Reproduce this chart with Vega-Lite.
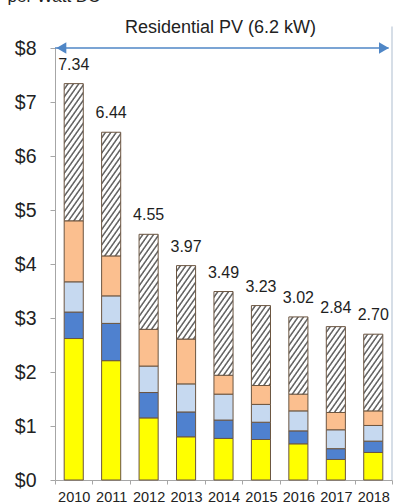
{
"$schema": "https://vega.github.io/schema/vega-lite/v6.json",
"width": 337,
"height": 432,
"autosize": {"type": "none"},
"padding": {"left": 55, "top": 48, "right": 2, "bottom": 24},
"background": "white",
"config": {"view": {"stroke": null}, "font": "Liberation Sans"},
"params": [{"name": "hatch", "value": [
{"offset":0,"color":"#fff"},{"offset":0.02,"color":"#fff"},{"offset":0.03,"color":"#666"},{"offset":0.037,"color":"#666"},
{"offset":0.045,"color":"#fff"},{"offset":0.065,"color":"#fff"},{"offset":0.075,"color":"#666"},{"offset":0.082,"color":"#666"},
{"offset":0.09,"color":"#fff"},{"offset":0.11,"color":"#fff"},{"offset":0.12,"color":"#666"},{"offset":0.127,"color":"#666"},
{"offset":0.135,"color":"#fff"},{"offset":0.155,"color":"#fff"},{"offset":0.165,"color":"#666"},{"offset":0.172,"color":"#666"},
{"offset":0.18,"color":"#fff"},{"offset":0.2,"color":"#fff"},{"offset":0.21,"color":"#666"},{"offset":0.217,"color":"#666"},
{"offset":0.225,"color":"#fff"},{"offset":0.245,"color":"#fff"},{"offset":0.255,"color":"#666"},{"offset":0.262,"color":"#666"},
{"offset":0.27,"color":"#fff"},{"offset":0.29,"color":"#fff"},{"offset":0.3,"color":"#666"},{"offset":0.307,"color":"#666"},
{"offset":0.315,"color":"#fff"},{"offset":0.335,"color":"#fff"},{"offset":0.345,"color":"#666"},{"offset":0.352,"color":"#666"},
{"offset":0.36,"color":"#fff"},{"offset":0.38,"color":"#fff"},{"offset":0.39,"color":"#666"},{"offset":0.397,"color":"#666"},
{"offset":0.405,"color":"#fff"},{"offset":0.425,"color":"#fff"},{"offset":0.435,"color":"#666"},{"offset":0.442,"color":"#666"},
{"offset":0.45,"color":"#fff"},{"offset":0.47,"color":"#fff"},{"offset":0.48,"color":"#666"},{"offset":0.487,"color":"#666"},
{"offset":0.495,"color":"#fff"},{"offset":0.515,"color":"#fff"},{"offset":0.525,"color":"#666"},{"offset":0.532,"color":"#666"},
{"offset":0.54,"color":"#fff"},{"offset":0.56,"color":"#fff"},{"offset":0.57,"color":"#666"},{"offset":0.577,"color":"#666"},
{"offset":0.585,"color":"#fff"},{"offset":0.605,"color":"#fff"},{"offset":0.615,"color":"#666"},{"offset":0.622,"color":"#666"},
{"offset":0.63,"color":"#fff"},{"offset":0.65,"color":"#fff"},{"offset":0.66,"color":"#666"},{"offset":0.667,"color":"#666"},
{"offset":0.675,"color":"#fff"},{"offset":0.695,"color":"#fff"},{"offset":0.705,"color":"#666"},{"offset":0.712,"color":"#666"},
{"offset":0.72,"color":"#fff"},{"offset":0.74,"color":"#fff"},{"offset":0.75,"color":"#666"},{"offset":0.757,"color":"#666"},
{"offset":0.765,"color":"#fff"},{"offset":0.785,"color":"#fff"},{"offset":0.795,"color":"#666"},{"offset":0.802,"color":"#666"},
{"offset":0.81,"color":"#fff"},{"offset":0.83,"color":"#fff"},{"offset":0.84,"color":"#666"},{"offset":0.847,"color":"#666"},
{"offset":0.855,"color":"#fff"},{"offset":0.875,"color":"#fff"},{"offset":0.885,"color":"#666"},{"offset":0.892,"color":"#666"},
{"offset":0.9,"color":"#fff"},{"offset":0.92,"color":"#fff"},{"offset":0.93,"color":"#666"},{"offset":0.937,"color":"#666"},
{"offset":0.945,"color":"#fff"},{"offset":0.965,"color":"#fff"},{"offset":0.975,"color":"#666"},{"offset":0.982,"color":"#666"}
]}],
"datasets": {
"costs": [
{"year":"2010","component":"Module","k":1,"value":2.62},
{"year":"2010","component":"Inverter","k":2,"value":0.49},
{"year":"2010","component":"Hardware BOS","k":3,"value":0.56},
{"year":"2010","component":"Install labor","k":4,"value":1.13},
{"year":"2010","component":"Other soft costs","k":5,"value":2.54},
{"year":"2011","component":"Module","k":1,"value":2.21},
{"year":"2011","component":"Inverter","k":2,"value":0.69},
{"year":"2011","component":"Hardware BOS","k":3,"value":0.51},
{"year":"2011","component":"Install labor","k":4,"value":0.74},
{"year":"2011","component":"Other soft costs","k":5,"value":2.29},
{"year":"2012","component":"Module","k":1,"value":1.15},
{"year":"2012","component":"Inverter","k":2,"value":0.47},
{"year":"2012","component":"Hardware BOS","k":3,"value":0.49},
{"year":"2012","component":"Install labor","k":4,"value":0.68},
{"year":"2012","component":"Other soft costs","k":5,"value":1.76},
{"year":"2013","component":"Module","k":1,"value":0.80},
{"year":"2013","component":"Inverter","k":2,"value":0.46},
{"year":"2013","component":"Hardware BOS","k":3,"value":0.52},
{"year":"2013","component":"Install labor","k":4,"value":0.83},
{"year":"2013","component":"Other soft costs","k":5,"value":1.36},
{"year":"2014","component":"Module","k":1,"value":0.77},
{"year":"2014","component":"Inverter","k":2,"value":0.34},
{"year":"2014","component":"Hardware BOS","k":3,"value":0.48},
{"year":"2014","component":"Install labor","k":4,"value":0.35},
{"year":"2014","component":"Other soft costs","k":5,"value":1.55},
{"year":"2015","component":"Module","k":1,"value":0.75},
{"year":"2015","component":"Inverter","k":2,"value":0.32},
{"year":"2015","component":"Hardware BOS","k":3,"value":0.33},
{"year":"2015","component":"Install labor","k":4,"value":0.35},
{"year":"2015","component":"Other soft costs","k":5,"value":1.48},
{"year":"2016","component":"Module","k":1,"value":0.67},
{"year":"2016","component":"Inverter","k":2,"value":0.24},
{"year":"2016","component":"Hardware BOS","k":3,"value":0.37},
{"year":"2016","component":"Install labor","k":4,"value":0.31},
{"year":"2016","component":"Other soft costs","k":5,"value":1.43},
{"year":"2017","component":"Module","k":1,"value":0.38},
{"year":"2017","component":"Inverter","k":2,"value":0.20},
{"year":"2017","component":"Hardware BOS","k":3,"value":0.35},
{"year":"2017","component":"Install labor","k":4,"value":0.32},
{"year":"2017","component":"Other soft costs","k":5,"value":1.59},
{"year":"2018","component":"Module","k":1,"value":0.51},
{"year":"2018","component":"Inverter","k":2,"value":0.21},
{"year":"2018","component":"Hardware BOS","k":3,"value":0.29},
{"year":"2018","component":"Install labor","k":4,"value":0.27},
{"year":"2018","component":"Other soft costs","k":5,"value":1.42}
],
"totals": [
{"year":"2010","total":7.34},{"year":"2011","total":6.44},{"year":"2012","total":4.55},
{"year":"2013","total":3.97},{"year":"2014","total":3.49},{"year":"2015","total":3.23},
{"year":"2016","total":3.02},{"year":"2017","total":2.84},{"year":"2018","total":2.70}
],
"arrow": [{"a":0,"b":0.99}],
"heads": [{"p":0.019,"side":"left"},{"p":0.976,"side":"right"}],
"frame": [{"top":8.4,"bottom":0}]
},
"layer": [
{
"data": {"name": "costs"},
"mark": {"type": "bar", "stroke": "#6b5540", "strokeWidth": 1, "width": {"band": 0.51}},
"encoding": {
"x": {"field": "year", "type": "nominal", "scale": {"paddingInner": 0, "paddingOuter": 0},
"axis": {"title": null, "labelAngle": 0, "labelFontSize": 14.5, "labelColor": "#222", "tickBand": "extent", "tickSize": 4, "labelPadding": 6, "domainColor": "#a6a6a6", "tickColor": "#a6a6a6", "grid": false}},
"y": {"field": "value", "type": "quantitative", "aggregate": "sum", "stack": "zero", "scale": {"domain": [0, 8], "nice": false},
"axis": {"values": [0,1,2,3,4,5,6,7,8], "format": "$.0f", "labelFontSize": 19.5, "labelColor": "#222", "tickSize": 5, "labelPadding": 14, "grid": false, "domainColor": "#a6a6a6", "tickColor": "#a6a6a6",
"title": "per Watt DC", "titleAngle": 0, "titleAlign": "left", "titleBaseline": "alphabetic", "titleX": -48, "titleY": -47, "titleFontSize": 17, "titleFontWeight": "normal", "titleColor": "#222"}},
"order": {"field": "k", "type": "quantitative"},
"fill": {"field": "component", "type": "nominal", "legend": null,
"scale": {"domain": ["Module", "Inverter", "Hardware BOS", "Install labor", "Other soft costs"], "range": ["#ffff00", "#4f81cf", "#c6d9f0", "#fbbf8f", "#ffffff"]},
"condition": [
{"test": "datum.component === 'Other soft costs' && datum.year === '2010'", "value": {"expr": "{gradient: 'linear', x1: 0, y1: 0, x2: 0.2361, y2: 1.1923, stops: hatch}"}},
{"test": "datum.component === 'Other soft costs' && datum.year === '2011'", "value": {"expr": "{gradient: 'linear', x1: 0, y1: 0, x2: 0.2880, y2: 1.3111, stops: hatch}"}},
{"test": "datum.component === 'Other soft costs' && datum.year === '2012'", "value": {"expr": "{gradient: 'linear', x1: 0, y1: 0, x2: 0.4731, y2: 1.6542, stops: hatch}"}},
{"test": "datum.component === 'Other soft costs' && datum.year === '2013'", "value": {"expr": "{gradient: 'linear', x1: 0, y1: 0, x2: 0.7540, y2: 2.0370, stops: hatch}"}},
{"test": "datum.component === 'Other soft costs' && datum.year === '2014'", "value": {"expr": "{gradient: 'linear', x1: 0, y1: 0, x2: 0.5965, y2: 1.8375, stops: hatch}"}},
{"test": "datum.component === 'Other soft costs' && datum.year === '2015'", "value": {"expr": "{gradient: 'linear', x1: 0, y1: 0, x2: 0.6485, y2: 1.9071, stops: hatch}"}},
{"test": "datum.component === 'Other soft costs' && datum.year === '2016'", "value": {"expr": "{gradient: 'linear', x1: 0, y1: 0, x2: 0.6896, y2: 1.9594, stops: hatch}"}},
{"test": "datum.component === 'Other soft costs' && datum.year === '2017'", "value": {"expr": "{gradient: 'linear', x1: 0, y1: 0, x2: 0.5691, y2: 1.7991, stops: hatch}"}},
{"test": "datum.component === 'Other soft costs' && datum.year === '2018'", "value": {"expr": "{gradient: 'linear', x1: 0, y1: 0, x2: 0.6976, y2: 1.9693, stops: hatch}"}}
]}
}
},
{
"data": {"name": "totals"},
"mark": {"type": "text", "baseline": "alphabetic", "dy": -14, "fontSize": 16, "color": "#1e1e1e"},
"encoding": {
"x": {"field": "year", "type": "nominal", "scale": {"paddingInner": 0, "paddingOuter": 0}, "axis": null},
"y": {"field": "total", "type": "quantitative", "title": "per Watt DC"},
"text": {"field": "total", "type": "quantitative", "format": ".2f"}
}
},
{
"data": {"name": "frame"},
"mark": {"type": "rule", "color": "#c9d3df", "strokeWidth": 1.5},
"encoding": {
"x": {"datum": 1, "type": "quantitative", "scale": {"domain": [0, 1]}, "axis": null},
"y": {"field": "top", "type": "quantitative", "title": "per Watt DC"},
"y2": {"field": "bottom"}
}
},
{
"data": {"name": "arrow"},
"mark": {"type": "rule", "color": "#4f86c6", "strokeWidth": 1.5},
"encoding": {
"x": {"field": "a", "type": "quantitative", "scale": {"domain": [0, 1]},
"axis": {"orient": "top", "domain": false, "ticks": false, "labels": false, "grid": false, "title": "Residential PV (6.2 kW)", "titleFontSize": 18, "titleFontWeight": "normal", "titleColor": "#222", "titleBaseline": "alphabetic", "titleY": -16, "titleX": 165}},
"x2": {"field": "b"},
"y": {"datum": 8}
}
},
{
"data": {"name": "heads"},
"mark": {"type": "point", "filled": true, "color": "#4f86c6", "opacity": 1, "size": 130},
"encoding": {
"x": {"field": "p", "type": "quantitative", "scale": {"domain": [0, 1]}, "axis": null},
"y": {"datum": 8},
"shape": {"field": "side", "type": "nominal", "legend": null, "scale": {"domain": ["left", "right"], "range": ["triangle-left", "triangle-right"]}}
}
}
],
"resolve": {"scale": {"x": "independent"}}
}
